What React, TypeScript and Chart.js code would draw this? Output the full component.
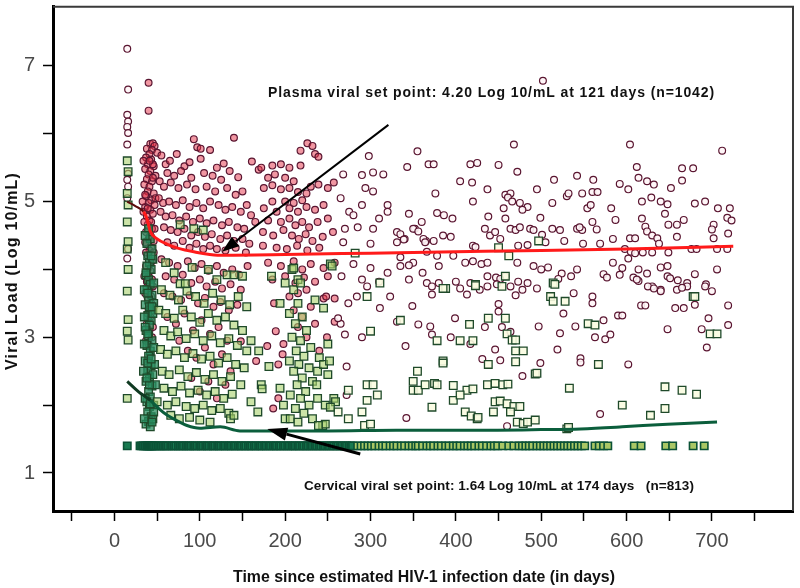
import React, { useEffect, useRef } from "react";
import { Chart, registerables } from "chart.js";

Chart.register(...registerables);

// ---------- DATA ----------
// Plasma viral load (log10 copies/mL) vs days since infection: [day, log10]
const plasmaDay15: [number, number][] = [
  [15, 7.25], [16, 6.65], [15, 6.28], [16, 6.18], [15, 6.1], [16, 6.01], [15, 5.84],
  [16, 5.41], [15, 5.32], [16, 5.22], [15, 5.05], [16, 4.3], [15, 4.16],
];

const plasmaEarly: [number, number][] = [
  [40, 6.75], [40, 6.34], [42, 5.85], [45, 5.86], [47, 5.82], [38, 5.78], [44, 5.76], [41, 5.7],
  [50, 5.72], [37, 5.65], [43, 5.62], [39, 5.55], [46, 5.52], [36, 5.48], [42, 5.45], [40, 5.4],
  [48, 5.38], [38, 5.33], [44, 5.3], [35, 5.25], [41, 5.22], [39, 5.15], [46, 5.12], [37, 5.08],
  [43, 5.02], [40, 4.98], [36, 4.92], [42, 4.88], [45, 4.82], [38, 4.78], [41, 4.72], [39, 4.66],
  [44, 4.6], [37, 4.55], [42, 4.5], [40, 4.45], [46, 4.42], [38, 4.38], [43, 4.32], [41, 4.28],
  [39, 4.2], [44, 4.12], [37, 4.05], [42, 3.98], [40, 3.9], [38, 3.82], [45, 3.75], [41, 3.68],
  [39, 3.58], [43, 3.5], [40, 3.42], [42, 3.3], [38, 3.2], [41, 3.1], [44, 3.0], [40, 2.9],
  [42, 2.75], [39, 2.6],
  [34, 5.6], [36, 5.1], [45, 5.35], [47, 4.95], [35, 4.7], [46, 4.25], [36, 4.4], [44, 3.85],
  [36, 3.65], [46, 3.45], [35, 3.9], [47, 4.6], [34, 4.85], [45, 5.55], [33, 5.0], [48, 5.05],
  [43, 4.7], [39, 4.9], [41, 5.6], [37, 4.25], [43, 3.6], [39, 3.35], [45, 3.15], [37, 2.95],
  [93, 5.92], [140, 5.94], [97, 5.8], [101, 5.78], [112, 5.76], [73, 5.7], [101, 5.63], [55, 5.68],
  [60, 5.55], [65, 5.6], [82, 5.52], [88, 5.58], [120, 5.5], [128, 5.56], [135, 5.45], [62, 5.42],
  [70, 5.38], [78, 5.45], [90, 5.35], [105, 5.42], [115, 5.38], [125, 5.32], [145, 5.36], [53, 5.3],
  [58, 5.22], [66, 5.28], [75, 5.2], [85, 5.25], [95, 5.18], [108, 5.22], [118, 5.15], [132, 5.2],
  [142, 5.1], [150, 5.15], [161, 5.59], [169, 5.47],
  [52, 5.05], [57, 4.98], [64, 5.0], [72, 4.95], [80, 5.02], [88, 4.92], [96, 4.98], [104, 4.9],
  [112, 5.0], [122, 4.95], [130, 4.88], [138, 4.92], [148, 4.85], [155, 4.95], [160, 4.8], [165, 4.7],
  [54, 4.85], [60, 4.78], [68, 4.8], [76, 4.72], [84, 4.78], [92, 4.7], [100, 4.75], [108, 4.68],
  [116, 4.72], [126, 4.65], [134, 4.7], [144, 4.62], [152, 4.6], [58, 4.62], [66, 4.58], [74, 4.55],
  [82, 4.6], [90, 4.5], [98, 4.55], [106, 4.48], [114, 4.52], [124, 4.45], [132, 4.5], [140, 4.42],
  [150, 4.45], [158, 4.38], [62, 4.4], [70, 4.35], [80, 4.42], [88, 4.32], [96, 4.38], [104, 4.3],
  [112, 4.35], [120, 4.3], [130, 4.28], [142, 4.32], [154, 4.25],
  [55, 4.15], [64, 4.1], [74, 4.05], [86, 4.12], [94, 4.02], [102, 4.08], [110, 3.98], [120, 4.05],
  [128, 3.95], [138, 4.0], [146, 3.92], [156, 4.05], [60, 3.9], [70, 3.85], [80, 3.92], [90, 3.8],
  [100, 3.85], [108, 3.75], [118, 3.82], [126, 3.72], [136, 3.78], [148, 3.7], [58, 3.65], [68, 3.6],
  [78, 3.55], [88, 3.62], [98, 3.5], [106, 3.58], [116, 3.45], [124, 3.52], [134, 3.4], [144, 3.48],
  [62, 3.3], [72, 3.2], [82, 3.35], [92, 3.1], [102, 3.25], [112, 3.05], [122, 3.15], [132, 2.95],
  [148, 2.94], [166, 2.65], [76, 2.95], [86, 2.8], [96, 2.7], [106, 2.85], [116, 2.6], [126, 2.75],
  [136, 2.5], [90, 2.4], [110, 2.35], [130, 2.3], [100, 2.2], [120, 2.1],
];

const plasmaMid: [number, number][] = [
  [172, 5.5], [180, 5.35], [175, 5.2], [185, 5.53], [195, 5.55], [205, 5.5], [218, 5.53], [188, 5.4],
  [200, 5.35], [210, 5.3], [218, 5.75], [226, 5.86], [232, 5.82], [235, 5.7], [239, 5.66], [185, 5.24],
  [195, 5.18], [205, 5.2], [215, 5.14], [225, 5.12], [230, 5.22], [239, 5.25], [250, 5.2], [257, 5.28],
  [185, 5.0], [200, 5.0], [210, 4.98], [220, 5.02], [175, 4.9], [190, 4.85], [205, 4.9], [215, 4.85],
  [225, 4.92], [235, 4.88], [245, 4.95], [180, 4.72], [195, 4.7], [205, 4.75], [212, 4.65], [220, 4.7],
  [228, 4.62], [238, 4.7], [250, 4.75], [174, 4.55], [186, 4.5], [198, 4.58], [208, 4.5], [216, 4.45],
  [224, 4.52], [232, 4.42], [244, 4.48], [256, 4.55], [174, 4.35], [190, 4.32], [202, 4.3], [214, 4.35],
  [226, 4.28], [240, 4.32], [180, 4.1], [195, 4.05], [210, 4.12], [220, 4.0], [230, 4.08], [245, 4.02],
  [258, 4.1], [185, 3.85], [200, 3.9], [212, 3.8], [222, 3.88], [235, 3.82], [250, 3.9], [187, 3.5],
  [189, 3.09], [179, 2.87], [197, 2.75], [186, 1.95], [192, 2.1], [198, 2.9], [192, 2.6], [205, 3.6],
  [215, 3.65], [225, 3.7], [210, 3.4], [220, 3.3], [230, 3.45], [215, 3.15], [225, 3.0], [235, 3.2],
  [245, 3.57], [249, 3.0], [258, 3.23], [265, 3.2], [270, 3.04], [272, 2.57], [272, 2.15], [262, 3.28],
  [248, 3.6], [240, 2.8],
  [268, 5.4], [290, 5.39], [298, 5.67], [303, 5.43], [315, 5.4], [294, 5.2], [303, 5.15], [343, 5.51],
  [355, 5.74], [320, 4.95], [320, 4.85], [331, 4.55], [331, 4.4], [352, 4.6], [270, 4.6], [285, 4.62],
  [303, 4.6], [275, 4.85], [290, 4.95], [265, 5.05], [280, 4.8], [310, 4.75], [345, 4.82], [360, 4.7],
  [365, 4.42], [268, 4.4], [300, 4.38], [340, 4.45], [280, 4.08], [300, 4.02], [320, 3.95], [335, 4.05],
  [350, 4.1], [361, 3.95], [266, 3.9], [290, 3.85], [310, 3.82], [345, 3.85], [366, 3.8], [284, 3.6],
  [296, 3.75], [311, 3.43], [323, 3.6], [331, 3.23], [341, 2.87], [342, 1.81], [349, 3.46], [356, 3.19],
  [274, 3.5], [258, 3.57], [290, 3.0],
];

const plasmaLate: [number, number][] = [
  [502, 6.78], [468, 5.84], [604, 5.84], [712, 5.75], [368, 5.55], [374, 5.55], [417, 5.55],
  [425, 5.57], [450, 5.54], [472, 5.44], [515, 5.32], [542, 5.38], [561, 5.32], [612, 5.51], [614, 5.35],
  [624, 5.3], [632, 5.25], [665, 5.49], [678, 5.49], [665, 5.31], [592, 5.26], [405, 5.3], [419, 5.28],
  [376, 5.12], [437, 5.18], [495, 5.18], [602, 5.18], [652, 5.2], [560, 5.14], [566, 5.14],
  [458, 5.1], [464, 5.12], [461, 5.06], [466, 5.0], [475, 4.98], [484, 4.92], [478, 4.88], [456, 4.9],
  [420, 5.0], [513, 4.98], [530, 5.08], [532, 5.12], [548, 5.12], [554, 4.9], [558, 4.95], [582, 4.9],
  [618, 5.0], [629, 5.06], [640, 5.0], [648, 4.96], [645, 4.82], [692, 5.0], [680, 4.97], [707, 4.9],
  [721, 4.9], [718, 4.76], [723, 4.72], [378, 4.83], [386, 4.8], [396, 4.75], [438, 4.78], [499, 4.76],
  [458, 4.75], [587, 4.73], [618, 4.75], [622, 4.63], [667, 4.73], [560, 4.7], [649, 4.66], [659, 4.66],
  [702, 4.66], [700, 4.59], [565, 4.59], [624, 4.56], [630, 4.5], [636, 4.46], [719, 4.53], [659, 4.48],
  [604, 4.46], [610, 4.46], [702, 4.46], [434, 4.6], [440, 4.5], [446, 4.55], [452, 4.45], [464, 4.6],
  [470, 4.58], [475, 4.62], [487, 4.6], [491, 4.58], [513, 4.6], [522, 4.58], [501, 4.51], [542, 4.6],
  [548, 4.58], [545, 4.62], [350, 4.6], [356, 4.56], [335, 4.52], [339, 4.44], [362, 4.45], [374, 4.42],
  [364, 4.4], [385, 4.5], [394, 4.48], [549, 4.38], [569, 4.38], [638, 4.38], [420, 4.35], [423, 4.33],
  [473, 4.35], [484, 4.36], [505, 4.4], [527, 4.42], [584, 4.45],
  [598, 4.3], [605, 4.26], [610, 4.24], [619, 4.25], [630, 4.25], [649, 4.25], [676, 4.3], [682, 4.3],
  [706, 4.3], [718, 4.3], [366, 4.26], [378, 4.2], [380, 4.05], [397, 4.2], [411, 4.1], [420, 4.12],
  [430, 4.08], [437, 4.1], [472, 4.1], [491, 4.05], [500, 4.0], [508, 4.03], [524, 3.94], [542, 4.0],
  [584, 4.1], [595, 4.02], [602, 4.16], [614, 4.0], [624, 3.94], [640, 4.03], [648, 4.05], [706, 4.0],
  [335, 4.18], [345, 4.06],
  [648, 3.9], [573, 3.93], [614, 3.83], [651, 3.87], [660, 3.84], [671, 3.8], [680, 3.93], [693, 3.78],
  [380, 3.8], [400, 3.82], [417, 3.8], [437, 3.9], [447, 3.88], [458, 3.9], [452, 3.86], [473, 3.82],
  [484, 3.8], [448, 3.78], [464, 3.75], [405, 3.72], [428, 3.7], [577, 3.88], [592, 3.92], [608, 3.88],
  [612, 3.85], [630, 3.75], [640, 3.7], [520, 3.86], [535, 3.9],
  [372, 3.75], [372, 3.63], [413, 3.63], [437, 3.75], [399, 3.28], [370, 3.16], [372, 3.04], [394, 3.0],
  [417, 2.9], [434, 3.15], [450, 3.49], [450, 3.38], [454, 3.15], [464, 3.08], [446, 2.82], [431, 2.68],
  [452, 2.66], [478, 2.43], [495, 2.47], [499, 2.62], [497, 3.16], [519, 2.82], [522, 3.06], [526, 3.35],
  [540, 3.16], [546, 2.69], [538, 3.65], [495, 3.72], [470, 3.62], [478, 3.7], [460, 1.69], [560, 3.6],
  [560, 3.5], [573, 3.25], [563, 3.0], [575, 2.97], [581, 3.04], [590, 3.32], [595, 3.32], [602, 2.6],
  [569, 1.87], [546, 2.63], [617, 3.47], [622, 3.47], [625, 3.75], [640, 3.68], [632, 3.72], [659, 3.7],
  [671, 3.75], [665, 3.73], [648, 3.12], [657, 3.43], [667, 3.43], [680, 3.48], [692, 3.75], [700, 3.68],
  [696, 3.28], [688, 3.12], [694, 2.85], [719, 3.47], [719, 3.18],
];

// Cervical viral load (log10 copies/mL): [day, log10]
const cervicalEarly: [number, number][] = [
  [15, 5.6], [16, 5.44], [15, 5.12], [16, 4.95], [15, 4.7], [16, 4.41], [15, 4.3], [16, 4.0],
  [15, 3.68], [16, 3.26], [15, 3.09], [16, 2.96], [15, 2.1],
  [40, 4.6], [42, 4.45], [38, 4.38], [44, 4.3], [39, 4.2], [41, 4.1], [43, 4.0], [37, 3.92], [40, 3.85],
  [42, 3.78], [38, 3.7], [44, 3.62], [40, 3.55], [36, 3.48], [42, 3.4], [39, 3.32], [43, 3.25], [41, 3.18],
  [37, 3.1], [40, 3.02], [44, 2.95], [38, 2.88], [42, 2.8], [40, 2.72], [36, 2.65], [43, 2.58], [39, 2.5],
  [41, 2.42], [37, 2.35], [44, 2.28], [40, 2.2], [42, 2.12], [38, 2.05], [41, 1.98], [39, 1.9], [43, 1.83],
  [40, 1.76], [37, 1.72], [42, 1.68], [45, 1.8], [46, 2.0], [35, 2.9], [35, 3.3], [46, 3.5], [47, 2.6],
  [48, 2.3],
  [36, 4.5], [45, 4.15], [38, 4.05], [46, 3.8], [35, 3.7], [45, 3.35], [36, 3.15], [46, 2.85], [34, 2.5],
  [45, 2.45], [36, 2.1], [46, 1.9], [35, 1.8], [44, 1.75], [39, 2.62], [43, 2.68], [41, 3.45], [39, 3.65],
  [37, 3.95], [43, 4.2], [41, 2.3], [38, 2.4], [42, 2.02], [39, 3.05], [44, 3.45],
  [77, 4.66], [104, 4.58], [93, 4.6], [91, 4.03], [132, 3.92], [140, 3.92], [77, 3.79], [83, 3.79],
  [60, 4.1], [70, 3.95], [110, 4.0], [120, 3.85], [150, 3.9], [55, 3.7], [65, 3.62], [75, 3.55], [85, 3.68],
  [95, 3.6], [105, 3.5], [115, 3.65], [125, 3.55], [135, 3.48], [145, 3.6], [155, 3.45], [52, 3.4],
  [60, 3.35], [70, 3.28], [80, 3.4], [90, 3.3], [100, 3.22], [110, 3.35], [120, 3.25], [130, 3.3],
  [140, 3.18], [150, 3.1], [58, 3.1], [66, 3.02], [74, 3.08], [84, 2.98], [94, 3.05], [104, 2.95],
  [114, 3.02], [124, 2.92], [134, 2.98], [144, 2.88], [160, 2.95], [54, 2.82], [62, 2.75], [72, 2.8],
  [82, 2.7], [92, 2.76], [102, 2.68], [112, 2.72], [122, 2.62], [132, 2.7], [142, 2.6], [152, 2.55],
  [56, 2.5], [64, 2.45], [76, 2.52], [86, 2.42], [96, 2.48], [106, 2.38], [116, 2.45], [126, 2.35],
  [136, 2.42], [148, 2.3], [58, 2.25], [68, 2.2], [78, 2.28], [88, 2.18], [98, 2.22], [108, 2.15],
  [118, 2.2], [128, 2.1], [138, 2.16], [50, 2.05], [62, 2.0], [72, 2.05], [84, 1.98], [94, 1.95],
  [104, 2.0], [114, 1.92], [124, 1.95], [134, 1.88], [66, 1.85], [76, 1.8], [88, 1.82], [100, 1.78],
  [112, 1.75], [136, 1.8], [140, 1.85], [172, 2.3], [160, 2.05], [168, 1.9],
];

const cervicalMid: [number, number][] = [
  [155, 2.8], [169, 2.8], [173, 2.24], [194, 3.5], [181, 2.57], [194, 2.25], [198, 2.0], [200, 1.8],
  [206, 1.8], [184, 3.9], [282, 4.24], [311, 3.8], [296, 3.6], [253, 4.08], [255, 4.05], [208, 4.0],
  [215, 3.85], [210, 3.7], [215, 3.5], [205, 3.35], [220, 3.3], [212, 3.2], [225, 3.1], [208, 3.0],
  [218, 2.95], [230, 2.85], [213, 2.8], [222, 2.72], [205, 2.65], [216, 2.6], [228, 2.55], [210, 2.5],
  [220, 2.4], [232, 2.35], [214, 2.3], [224, 2.2], [206, 2.15], [218, 2.1], [228, 2.0], [212, 1.95],
  [222, 1.88], [232, 1.8], [215, 1.75], [238, 2.5], [240, 2.7], [245, 2.6], [250, 2.45], [235, 3.55],
  [245, 3.43], [250, 2.9], [252, 2.65], [238, 2.1], [247, 2.0], [200, 3.8], [210, 4.02], [218, 3.8],
  [300, 3.09], [335, 3.25], [355, 2.5], [350, 2.22], [356, 2.22], [296, 2.3], [303, 2.3], [308, 2.15],
  [296, 2.07], [290, 1.9], [293, 1.7], [300, 1.72], [274, 1.8], [262, 1.9], [257, 2.1], [259, 2.05],
  [253, 1.97], [274, 2.22], [244, 1.7], [247, 1.72], [239, 1.7], [237, 2.3],
];

const cervicalLate: [number, number][] = [
  [388, 3.72], [423, 3.78], [454, 3.75], [511, 3.6], [514, 3.53], [528, 3.53], [416, 3.19], [378, 2.95],
  [405, 2.95], [420, 2.95], [438, 3.28], [458, 3.28], [460, 3.05], [466, 2.96], [470, 2.96], [470, 2.8],
  [479, 2.8], [470, 2.64], [438, 2.6], [385, 2.65], [493, 2.46], [495, 2.47], [364, 2.3], [375, 2.32],
  [378, 2.3], [397, 2.29], [413, 2.22], [420, 2.24], [437, 2.3], [446, 2.32], [455, 2.3], [461, 2.31],
  [533, 2.25], [397, 2.07], [372, 1.97], [411, 1.9], [418, 1.84], [425, 1.8], [446, 2.05], [452, 2.06],
  [460, 2.02], [468, 1.98], [475, 1.98], [444, 1.9], [464, 1.9], [472, 1.75], [479, 1.73], [484, 1.75],
  [493, 1.78], [530, 1.65], [450, 4.32], [462, 4.2], [497, 4.42], [458, 3.9], [423, 3.76], [514, 3.8],
  [516, 3.78], [385, 3.72], [678, 3.6], [555, 3.2], [563, 3.18], [567, 2.6], [595, 2.0], [628, 1.85],
  [645, 2.27], [645, 1.95], [665, 2.22], [682, 2.16], [680, 3.6], [698, 3.05], [706, 3.05], [532, 1.67],
  [350, 2.35], [385, 2.62], [405, 2.15], [426, 1.82],
];

// Undetectable cervical samples plotted at the detection floor
const undetectableLoad = 1.4;
const cervicalUndetectableDays: number[] = [
  15, 30, 32, 34, 36, 38, 39, 40, 41, 42, 43, 44, 45, 47, 49, 51, 53, 55, 57, 59, 61, 63, 66, 68, 70,
  72, 75, 77, 79, 81, 84, 86, 88, 90, 93, 95, 97, 100, 102, 104, 107, 109, 111, 114, 116, 118, 121,
  123, 125, 128, 130, 133, 135, 137, 140, 142, 145, 147, 149, 152, 154, 157, 159, 161, 164, 166, 169,
  171, 173, 176, 178, 181, 183, 186, 188, 190, 193, 195, 198, 200, 203, 205, 208, 210, 212, 215, 217,
  220, 222, 225, 227, 230, 232, 235, 237, 240, 242, 245, 247, 250, 252, 255, 257, 260, 262, 265, 267,
  270, 272, 275, 277, 279,
  285, 289, 293, 297, 301, 305, 310, 314, 318, 323, 327, 331, 336, 340, 345, 349, 353, 356, 361, 366,
  370, 374, 379, 383, 388, 392, 397, 401, 405, 410, 414, 418, 422, 427, 431, 436, 441, 445, 449, 455,
  462, 468, 474, 478, 482, 486, 490, 495, 499, 503, 507, 511, 515, 519, 523, 527, 531, 535, 539, 543,
  547, 551, 563, 568, 573, 578, 609, 617, 646, 654, 678, 691,
];

// Fitted set-point curves
const plasmaFitDays = [15, 25, 34, 38, 42, 50, 62, 75, 93, 121, 200, 300, 400, 500, 600, 725];
const plasmaFitLoad = [5.0, 4.93, 4.85, 4.75, 4.56, 4.45, 4.37, 4.31, 4.26, 4.21, 4.22, 4.24, 4.26, 4.28, 4.3, 4.34];
const cervicalFitDays = [15, 28, 42, 52, 62, 75, 85, 100, 124, 147, 174, 250, 330, 420, 500, 546, 595, 648, 706];
const cervicalFitLoad = [2.35, 2.2, 2.07, 1.95, 1.85, 1.76, 1.7, 1.66, 1.68, 1.62, 1.62, 1.62, 1.63, 1.63, 1.64, 1.65, 1.68, 1.72, 1.75];

// Axes
const xTickValues = [-50, 0, 50, 100, 150, 200, 250, 300, 350, 400, 450, 500, 550, 600, 650, 700, 750];
const xTickLabels = [0, 100, 200, 300, 400, 500, 600, 700];
const yTickValues = [1, 2, 3, 4, 5, 6, 7];
const yTickLabels = [1, 3, 5, 7];

const xTitle = "Time since estimated HIV-1 infection date (in days)";
const yTitle = "Viral Load (Log 10/mL)";
const plasmaNote = "Plasma viral set point: 4.20 Log 10/mL at 121 days (n=1042)";
const cervicalNote = "Cervical viral set point: 1.64 Log 10/mL at 174 days   (n=813)";
const plasmaArrow = { from: [321, 6.13], to: [126, 4.26] };
const cervicalArrow = { from: [288, 1.28], to: [179, 1.65] };

// ---------- CHART ----------
const toXY = (pairs: [number, number][]) => pairs.map(([x, y]) => ({ x, y }));
const tickFont = { family: "'Liberation Sans Narrow', 'Liberation Sans', Arial, sans-serif", size: 20 };
const boldFamily = "'Liberation Sans', Arial, sans-serif";

function drawArrow(ctx: CanvasRenderingContext2D, x0: number, y0: number, x1: number, y1: number, w: number, headLen: number, headW: number) {
  const ang = Math.atan2(y1 - y0, x1 - x0);
  const bx = x1 - headLen * Math.cos(ang);
  const by = y1 - headLen * Math.sin(ang);
  ctx.strokeStyle = "#000";
  ctx.fillStyle = "#000";
  ctx.lineWidth = w;
  ctx.beginPath();
  ctx.moveTo(x0, y0);
  ctx.lineTo(bx, by);
  ctx.stroke();
  ctx.beginPath();
  ctx.moveTo(x1, y1);
  ctx.lineTo(bx + (headW / 2) * Math.sin(ang), by - (headW / 2) * Math.cos(ang));
  ctx.lineTo(bx - (headW / 2) * Math.sin(ang), by + (headW / 2) * Math.cos(ang));
  ctx.closePath();
  ctx.fill();
}

// draw text stretched (letter spacing) or squeezed to a target width
function fitText(ctx: any, text: string, x: number, y: number, target: number) {
  ctx.letterSpacing = "0px";
  const w = ctx.measureText(text).width;
  if (w < target) {
    ctx.letterSpacing = `${(target - w) / text.length}px`;
    ctx.fillText(text, x, y);
  } else {
    ctx.fillText(text, x, y, target);
  }
  ctx.letterSpacing = "0px";
}

const overlayPlugin = {
  id: "overlay",
  afterDraw(chart: any) {
    const { ctx, chartArea } = chart;
    const xs = chart.scales.x;
    const ys = chart.scales.y;
    ctx.save();
    // top & right frame
    ctx.strokeStyle = "#3a3a3a";
    ctx.lineWidth = 2;
    ctx.beginPath();
    ctx.moveTo(chartArea.left, chartArea.top);
    ctx.lineTo(chartArea.right, chartArea.top);
    ctx.lineTo(chartArea.right, chartArea.bottom);
    ctx.stroke();

    // arrows
    drawArrow(ctx, xs.getPixelForValue(plasmaArrow.from[0]), ys.getPixelForValue(plasmaArrow.from[1]),
      xs.getPixelForValue(plasmaArrow.to[0]), ys.getPixelForValue(plasmaArrow.to[1]), 2, 17, 12);
    drawArrow(ctx, xs.getPixelForValue(cervicalArrow.from[0]), ys.getPixelForValue(cervicalArrow.from[1]),
      xs.getPixelForValue(cervicalArrow.to[0]), ys.getPixelForValue(cervicalArrow.to[1]), 3, 20, 13);

    // annotations
    ctx.fillStyle = "#111";
    ctx.textBaseline = "alphabetic";
    ctx.textAlign = "left";
    ctx.font = `bold 14px ${boldFamily}`;
    fitText(ctx, plasmaNote, 268, 97, 447);
    ctx.font = `bold 13.5px ${boldFamily}`;
    fitText(ctx, cervicalNote, 304, 490, 390);

    // axis titles
    ctx.fillStyle = "#111";
    ctx.font = `bold 16px ${boldFamily}`;
    ctx.textAlign = "left";
    ctx.textBaseline = "middle";
    fitText(ctx, xTitle, 233, 578, 382);
    ctx.save();
    ctx.translate(13, 370);
    ctx.rotate(-Math.PI / 2);
    ctx.font = `bold 16px ${boldFamily}`;
    fitText(ctx, yTitle, 0, 0, 198);
    ctx.restore();
    ctx.restore();
  },
};

export default function App() {
  const ref = useRef<HTMLCanvasElement | null>(null);

  useEffect(() => {
    if (!ref.current) return;
    const squareBorder = "#1f4a2a";
    const circleBorder = "#5a1631";
    const chart = new Chart(ref.current, {
      type: "scatter",
      data: {
        datasets: [
          {
            label: "Cervical set point curve",
            data: cervicalFitDays.map((d, i) => ({ x: d, y: cervicalFitLoad[i] })),
            showLine: true,
            pointRadius: 0,
            borderColor: "#0b5e3c",
            borderWidth: 3,
            cubicInterpolationMode: "monotone",
            segment: { borderColor: (c: any) => (c.p0.parsed.x < 40 ? "#103a22" : "#0b5e3c") },
            order: 0,
          } as any,
          {
            label: "Plasma set point curve",
            data: plasmaFitDays.map((d, i) => ({ x: d, y: plasmaFitLoad[i] })),
            showLine: true,
            pointRadius: 0,
            borderColor: "#ff1a1a",
            borderWidth: 3,
            cubicInterpolationMode: "monotone",
            segment: {
              borderColor: (c: any) => (c.p0.parsed.x < 34 ? "#5a0a0a" : "#ff1a1a"),
              borderWidth: (c: any) => (c.p0.parsed.x < 34 ? 2 : 3),
            },
            order: 1,
          } as any,
          {
            label: "Cervical",
            data: [...toXY(cervicalEarly), ...toXY(cervicalMid), ...toXY(cervicalLate)],
            pointStyle: "rect",
            pointRadius: 5.4,
            borderWidth: 1.3,
            borderColor: squareBorder,
            backgroundColor: (c: any) => {
              const x = c.raw ? c.raw.x : 0;
              if (x > 30 && x < 50) return "rgba(40,140,95,0.75)";
              return x < 260 ? "rgba(170,210,110,0.6)" : "rgba(250,252,225,0.9)";
            },
            order: 2,
          },
          {
            label: "Cervical undetectable",
            data: cervicalUndetectableDays.map((d) => ({ x: d, y: undetectableLoad })),
            pointStyle: "rect",
            pointRadius: 5.2,
            borderWidth: 1.6,
            borderColor: "#0b5236",
            backgroundColor: (c: any) => (c.raw && c.raw.x > 282 ? "#a9c765" : "#177a50"),
            order: 3,
          },
          {
            label: "Plasma",
            data: [...toXY(plasmaDay15), ...toXY(plasmaEarly), ...toXY(plasmaMid), ...toXY(plasmaLate)],
            pointStyle: "circle",
            pointRadius: 3.4,
            borderWidth: 1.2,
            borderColor: circleBorder,
            backgroundColor: (c: any) =>
              c.raw && c.raw.x > 30 && c.raw.x < 260 ? "rgba(228,48,70,0.5)" : "rgba(255,245,247,0.9)",
            order: 4,
          },
        ],
      },
      options: {
        animation: false,
        responsive: false,
        events: [],
        layout: { padding: { top: 5, right: 7, left: 0, bottom: 0 } },
        plugins: { legend: { display: false }, tooltip: { enabled: false } },
        scales: {
          x: {
            type: "linear",
            min: -72,
            max: 795,
            afterBuildTicks: (s: any) => {
              s.ticks = xTickValues.map((v) => ({ value: v }));
            },
            afterFit: (s: any) => {
              s.height = 77;
              s.paddingLeft = 0;
              s.paddingRight = 0;
            },
            ticks: {
              autoSkip: false,
              maxRotation: 0,
              padding: 8,
              color: "#4a4a4a",
              font: tickFont,
              callback: (v: any) => (xTickLabels.includes(Number(v)) ? String(v) : ""),
            },
            grid: { drawOnChartArea: false, drawTicks: true, tickLength: 10, tickColor: "#000", tickWidth: 1.5 },
            border: { display: true, width: 3, color: "#000" },
          },
          y: {
            type: "linear",
            min: 0.44,
            max: 7.87,
            afterBuildTicks: (s: any) => {
              s.ticks = yTickValues.map((v) => ({ value: v }));
            },
            afterFit: (s: any) => {
              s.width = 53;
              s.paddingTop = 0;
              s.paddingBottom = 0;
            },
            ticks: {
              autoSkip: false,
              padding: 8,
              color: "#4a4a4a",
              font: tickFont,
              callback: (v: any) => (yTickLabels.includes(Number(v)) ? String(v) : ""),
            },
            grid: { drawOnChartArea: false, drawTicks: true, tickLength: 10, tickColor: "#000", tickWidth: 1.5 },
            border: { display: true, width: 3, color: "#000" },
          },
        },
      },
      plugins: [overlayPlugin],
    } as any);
    return () => chart.destroy();
  }, []);

  return (
    <div style={{ position: "absolute", left: 0, top: 0, width: 800, height: 588, background: "#fff" }}>
      <canvas ref={ref} width={800} height={588} style={{ display: "block" }} />
    </div>
  );
}
